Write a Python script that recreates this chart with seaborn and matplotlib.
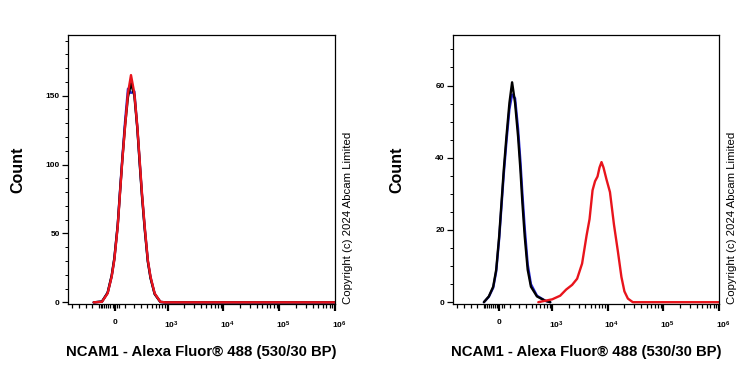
import numpy as np
import pandas as pd
import matplotlib
matplotlib.use("Agg")
import matplotlib.pyplot as plt
import matplotlib.transforms as mtransforms
import seaborn as sns

# ---------------- data ----------------
# Left panel: fluorescence values and counts
left_x = [-223, -125, -67, -28, -3, 29, 51, 74, 101, 132, 166, 207, 247, 280,
          316, 362, 420, 476, 573, 734, 907, 1000000]
left_blue = [0, 0.5, 7, 19, 31.5, 56, 81, 105, 131, 155, 152, 153, 126, 102,
             78, 54, 30, 18, 6.2, 0.3, 0, 0]
left_black = [0, 0.6, 7, 19.5, 32, 56, 80, 104, 128, 149, 159, 150, 126, 101,
              77, 53, 29.5, 17.5, 6, 0.3, 0, 0]
left_red = [0, 0.4, 6.5, 18.6, 30.7, 54.9, 79.1, 103.3, 127.4, 151.7, 164.9,
            151.7, 127.4, 103.3, 79.1, 54.9, 30.7, 18.6, 6.5, 0.4, 0, 0]

# Right panel: controls (black / blue)
right_xc = [-158, -104, -60, -31, -3, 19, 41, 67, 97, 125, 158, 194, 224, 251,
            285, 332, 389, 515, 742, 920]
right_black = [0, 1.6, 4.3, 9.0, 18.2, 27.5, 36.7, 45.9, 55.2, 60.9, 55.2, 45.9,
               36.7, 27.5, 18.2, 9.0, 4.3, 1.6, 0.4, 0]
right_blue = [0, 1.5, 4.0, 8.5, 17.5, 26.5, 35.5, 44.5, 53.5, 57.5, 56.5, 48,
              39, 30, 20.5, 10.5, 5, 1.8, 0.4, 0]
# Right panel: stained sample (red)
right_xr = [547, 1001, 1400, 1796, 2304, 2833, 3481, 4193, 4740, 5368, 5949,
            6588, 7159, 7772, 8439, 9549, 11026, 13007, 15320, 17702, 20038,
            23130, 28396, 1000000]
right_red = [0, 0.8, 1.8, 3.5, 4.8, 6.5, 10.7, 18.5, 23, 31, 33.5, 34.8, 37.3,
             38.8, 37.3, 34, 30.5, 21.5, 14, 7, 3, 1, 0, 0]

x_major = [0, 1e3, 1e4, 1e5, 1e6]
x_major_labels = ["0", "$10^{3}$", "$10^{4}$", "$10^{5}$", "$10^{6}$"]
x_minor = ([-645, -475, -344, -241] + list(range(-160, 41, 20)) +
           list(range(100, 1000, 100)) +
           [m * 10 ** e for e in (3, 4, 5) for m in range(2, 10)])

xlabel_text = "NCAM1 - Alexa Fluor\u00ae 488 (530/30 BP)"
ylabel_text = "Count"
copyright_text = "Copyright (c) 2024 Abcam Limited"

colors = {"Blue": "#2424d8", "Black": "#000000", "Red": "#e8141c"}

# ---------------- style ----------------
sns.set_theme(style="white")
plt.rcParams["font.family"] = ["Liberation Sans", "DejaVu Sans"]
plt.rcParams["mathtext.fontset"] = "custom"
plt.rcParams["mathtext.rm"] = "Liberation Sans:bold"
plt.rcParams["mathtext.it"] = "Liberation Sans:bold"
plt.rcParams["mathtext.bf"] = "Liberation Sans:bold"
plt.rcParams["text.color"] = "black"
plt.rcParams["axes.labelcolor"] = "black"

W = 229.0
def fwd(x):
    return np.arcsinh(np.asarray(x, dtype=float) / W)
def inv(y):
    return W * np.sinh(np.asarray(y, dtype=float))

def frame(series):
    rows = []
    for name, (xv, yv) in series.items():
        for a, b in zip(xv, yv):
            rows.append({"x": a, "count": b, "sample": name})
    return pd.DataFrame(rows)

df_left = frame({"Blue": (left_x, left_blue),
                 "Black": (left_x, left_black),
                 "Red": (left_x, left_red)})
df_right = frame({"Blue": (right_xc, right_blue),
                  "Black": (right_xc, right_black),
                  "Red": (right_xr, right_red)})

fig = plt.figure(figsize=(7.5, 3.75), dpi=100)
ax1 = fig.add_axes([68 / 750, 71 / 375, 267 / 750, 269 / 375])
ax2 = fig.add_axes([453 / 750, 71 / 375, 266 / 750, 269 / 375])

panels = [
    (ax1, df_left, (-1.2, 194), [0, 50, 100, 150], np.arange(0, 191, 10), -0.187),
    (ax2, df_right, (-0.5, 74), [0, 20, 40, 60], np.arange(0, 71, 5), -0.212),
]

for ax, df, ylim, ymaj, ymin, ylab_x in panels:
    ax.set_xscale("function", functions=(fwd, inv))
    sns.lineplot(data=df, x="x", y="count", hue="sample",
                 hue_order=["Blue", "Black", "Red"], palette=colors,
                 sort=False, estimator=None, legend=False, linewidth=1.7, ax=ax)
    ax.set_xlim(-765, 1e6)
    ax.set_ylim(*ylim)
    for s in ax.spines.values():
        s.set_visible(True)
        s.set_color("black")
        s.set_linewidth(0.9)
    ax.set_xticks(x_major)
    ax.set_xticklabels(x_major_labels)
    ax.set_xticks(x_minor, minor=True)
    ax.set_yticks(ymaj)
    ax.set_yticklabels([str(v) for v in ymaj])
    ax.set_yticks(ymin, minor=True)
    ax.tick_params(axis="x", which="major", direction="out", length=5, width=1.6,
                   labelsize=6, pad=6, colors="black", bottom=True)
    ax.tick_params(axis="x", which="minor", direction="out", length=3, width=0.9,
                   colors="black", bottom=True)
    ax.tick_params(axis="y", which="major", direction="out", length=4, width=0.9,
                   labelsize=6, pad=2, colors="black", left=True)
    ax.tick_params(axis="y", which="minor", direction="out", length=2.5, width=0.7,
                   colors="black", left=True)
    for lab in ax.get_xticklabels() + ax.get_yticklabels():
        lab.set_fontweight("bold")
    # shift power labels slightly right like the reference
    off = mtransforms.ScaledTranslation(4 / 100, 0, fig.dpi_scale_trans)
    for lab in ax.get_xticklabels()[1:]:
        lab.set_transform(lab.get_transform() + off)
    ax.set_xlabel(xlabel_text, fontsize=10.7, fontweight="bold", color="black")
    ax.xaxis.set_label_coords(0.5, -0.177)
    ax.xaxis.label.set_va("center")
    ax.set_ylabel(ylabel_text, fontsize=11.5, fontweight="bold", color="black")
    ax.yaxis.set_label_coords(ylab_x, 0.5)
    ax.yaxis.label.set_va("center")
    ax.text(1.047, 0.0, copyright_text, transform=ax.transAxes, rotation=90,
            ha="center", va="bottom", fontsize=8.2, color="black")

fig.savefig("out.png", dpi=100)
